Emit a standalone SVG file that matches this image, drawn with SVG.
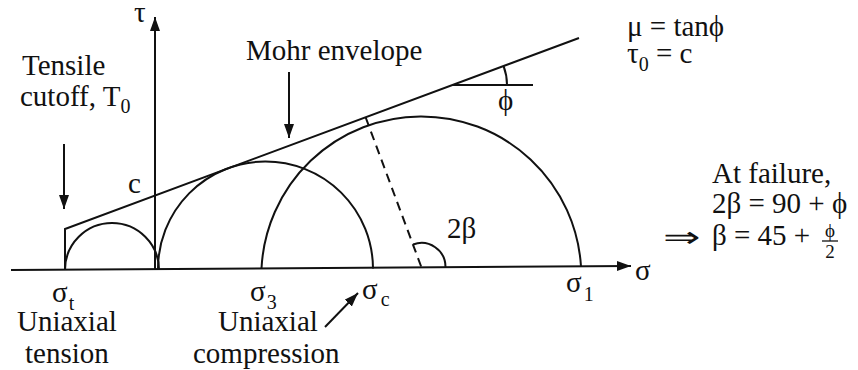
<svg xmlns="http://www.w3.org/2000/svg" width="858" height="370" viewBox="0 0 858 370">
<style>
.ln{fill:none;stroke:#111;stroke-width:2}
.t{font-size:29px;fill:#111}
.f{font-size:19px;fill:#111}
.sub{font-size:20px}
</style>
<defs>
<marker id="ah" markerUnits="userSpaceOnUse" markerWidth="16" markerHeight="12" refX="14" refY="5" orient="auto">
<path d="M0,0 L14,5 L0,10 Z" fill="#111"/>
</marker>
</defs>
<rect width="858" height="370" fill="#fff"/>
<g id="axes">
<line class="ln" x1="11" y1="270" x2="631" y2="266" marker-end="url(#ah)"/>
<line class="ln" x1="155" y1="270" x2="155" y2="17" marker-end="url(#ah)"/>
</g>
<g id="circles">
<path class="ln" d="M65,270 A47,47 0 0 1 159,270"/>
<path class="ln" d="M158,269.5 A107.5,107.5 0 0 1 373,268.5"/>
<path class="ln" d="M261.5,268.5 A160,160 0 0 1 581,266.5"/>
</g>
<g id="envelope">
<path class="ln" d="M65,270 L65,229 L579,38"/>
<line class="ln" x1="365.7" y1="117.5" x2="421.5" y2="267.5" stroke-dasharray="9,6"/>
<line class="ln" x1="453" y1="85" x2="533" y2="85"/>
<path class="ln" d="M507,85 A54,54 0 0 0 503.6,66.2"/>
<path class="ln" d="M445.5,267 A24,24 0 0 0 413.1,244.5"/>
</g>
<g id="connectors">
<line class="ln" x1="64" y1="144" x2="64" y2="209" marker-end="url(#ah)"/>
<line class="ln" x1="289" y1="72" x2="289" y2="138" marker-end="url(#ah)"/>
<line class="ln" x1="325" y1="327" x2="358" y2="293" marker-end="url(#ah)"/>
</g>
<g id="labels" font-family="'Liberation Serif', 'Times New Roman', serif">
<text class="t" x="134" y="22">τ</text>
<text class="t" x="635" y="280">σ</text>
<text class="t" x="22" y="75">Tensile</text>
<text class="t" x="20" y="106">cutoff, T<tspan class="sub" dy="7">0</tspan></text>
<text class="t" x="246" y="60">Mohr envelope</text>
<text class="t" x="128" y="193">c</text>
<text class="t" x="498" y="110">ϕ</text>
<text class="t" x="447" y="238">2β</text>
<text class="t" x="627" y="36">μ = tanϕ</text>
<text class="t" x="627" y="63">τ<tspan class="sub" dy="8">0</tspan><tspan dy="-8"> = c</tspan></text>
<text class="t" x="712" y="183">At failure,</text>
<text class="t" x="712" y="213">2β = 90 + ϕ</text>
<text class="t" x="663" y="247" textLength="37" lengthAdjust="spacingAndGlyphs">⇒</text>
<text class="t" x="712" y="245">β = 45 +</text>
<text class="f" x="830" y="237" text-anchor="middle">ϕ</text>
<line x1="822" y1="241" x2="838" y2="241" stroke="#111" stroke-width="1.3"/>
<text class="f" x="830" y="258" text-anchor="middle">2</text>
<text class="t" x="52" y="302">σ<tspan class="sub" dx="1" dy="8">t</tspan></text>
<text class="t" x="17" y="331">Uniaxial</text>
<text class="t" x="25" y="363">tension</text>
<text class="t" x="250" y="301">σ<tspan class="sub" dx="1" dy="8">3</tspan></text>
<text class="t" x="218" y="331">Uniaxial</text>
<text class="t" x="193" y="363">compression</text>
<text class="t" x="362" y="299">σ<tspan class="sub" dx="3" dy="7">c</tspan></text>
<text class="t" x="566" y="292">σ<tspan class="sub" dx="2" dy="9">1</tspan></text>
</g>
</svg>
